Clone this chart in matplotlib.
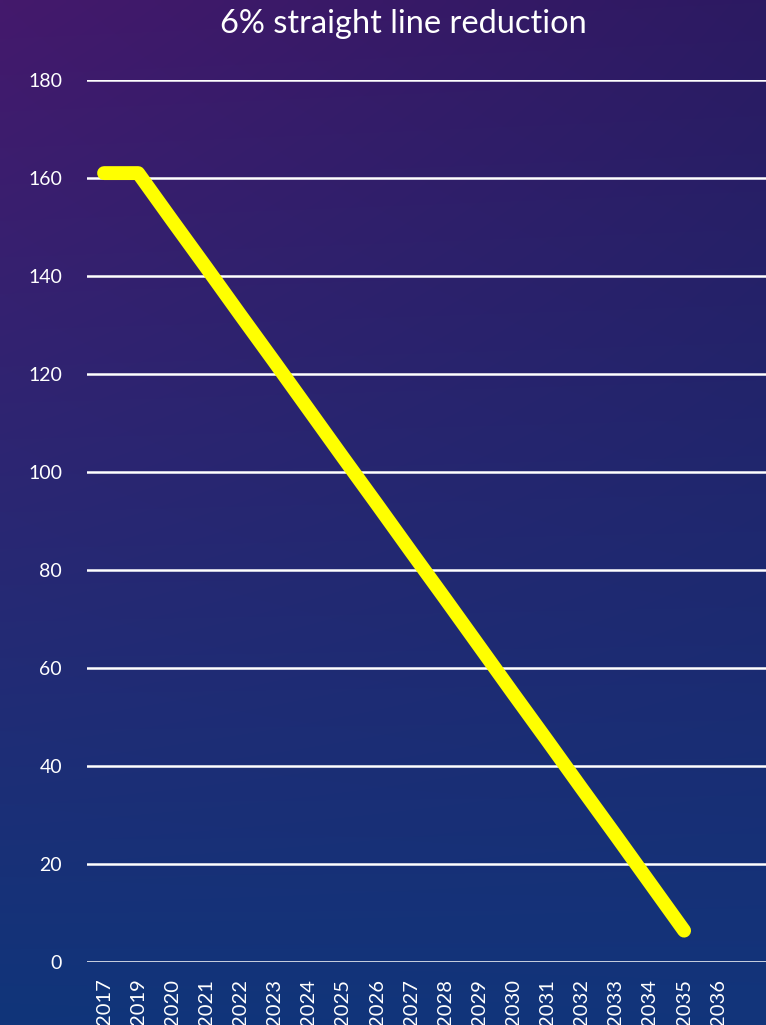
import numpy as np
import matplotlib
matplotlib.use("Agg")
import matplotlib.pyplot as plt
from matplotlib.colors import to_rgb

# ---- data ----
years = ["2017", "2019", "2020", "2021", "2022", "2023", "2024", "2025", "2026",
         "2027", "2028", "2029", "2030", "2031", "2032", "2033", "2034", "2035", "2036"]
emissions = [161.0, 161.0, 151.3, 141.7, 132.0, 122.4, 112.7, 103.0, 93.4,
             83.7, 74.1, 64.4, 54.7, 45.1, 35.4, 25.8, 16.1, 6.4, np.nan]
title = "6% straight line reduction"
yticks = [0, 20, 40, 60, 80, 100, 120, 140, 160, 180]

W, H = 766, 1025
fig = plt.figure(figsize=(W / 100, H / 100), dpi=100)

# background gradient
bg = fig.add_axes([0, 0, 1, 1], zorder=-10)
tl, tr = np.array(to_rgb("#44196c")), np.array(to_rgb("#2c1a62"))
bl, br = np.array(to_rgb("#10357a")), np.array(to_rgb("#12357b"))
ny, nx = 200, 150
v = np.linspace(0, 1, ny)[:, None, None]
u = np.linspace(0, 1, nx)[None, :, None]
top = tl * (1 - u) + tr * u
bot = bl * (1 - u) + br * u
img = top * (1 - v) + bot * v
bg.imshow(img, aspect="auto", extent=[0, 1, 0, 1], interpolation="bilinear")
bg.set_axis_off()

ax = fig.add_axes([87 / W, 63 / H, (W - 87) / W, (962 - 80) / H])
ax.set_facecolor("none")
x = np.arange(len(years))
ax.set_xlim(-0.5, len(years) + 0.4)
ax.set_ylim(0, 180)
ax.set_yticks(yticks)
ax.yaxis.grid(True, color="white", linewidth=1.8)
ax.set_axisbelow(True)
for s in ax.spines.values():
    s.set_visible(False)

ax.plot(x, emissions, color="#ffff00", linewidth=10,
        solid_capstyle="round", solid_joinstyle="round", zorder=3)

ax.set_xticks(x)
ax.set_xticklabels(years, rotation=90, va="top", ha="center")
ax.tick_params(axis="both", length=0, colors="white")
ax.tick_params(axis="y", pad=18, labelsize=14)
ax.tick_params(axis="x", pad=12, labelsize=14.5)
for lab in ax.get_xticklabels() + ax.get_yticklabels():
    lab.set_fontfamily("Lato")
    lab.set_color("white")

fig.text(403 / W, 1 - 24 / H, title, ha="center", va="center",
         color="white", fontsize=23.5, fontfamily="Lato")

fig.savefig("out.png", dpi=100)
